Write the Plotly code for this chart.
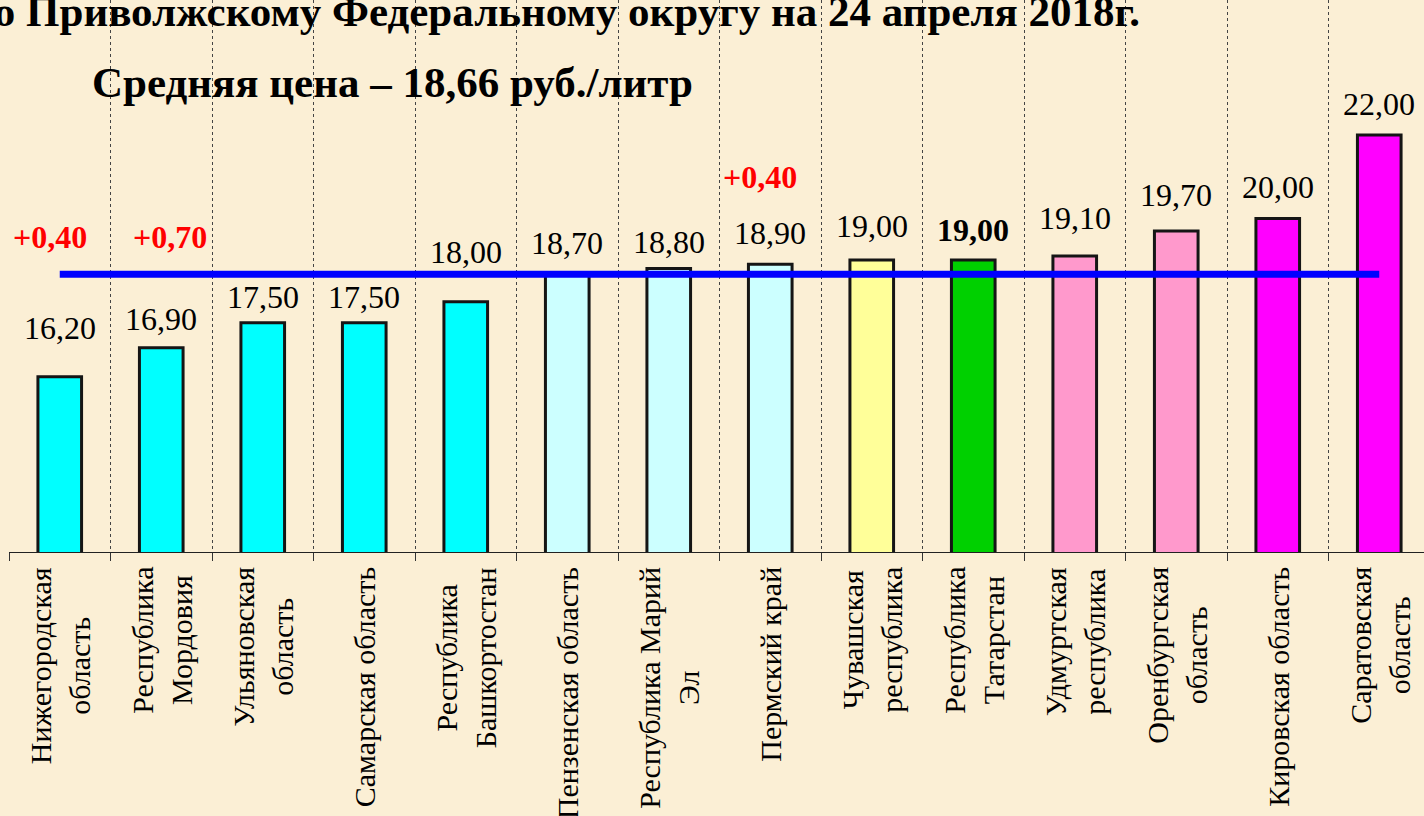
import plotly.graph_objects as go

# ---------------- data ----------------
regions = [
    "Нижегородская<br>область",
    "Республика<br>Мордовия",
    "Ульяновская<br>область",
    "Самарская область",
    "Республика<br>Башкортостан",
    "Пензенская область",
    "Республика Марий<br>Эл",
    "Пермский край",
    "Чувашская<br>республика",
    "Республика<br>Татарстан",
    "Удмуртская<br>республика",
    "Оренбургская<br>область",
    "Кировская область",
    "Саратовская<br>область",
]
prices = [16.20, 16.90, 17.50, 17.50, 18.00, 18.70, 18.80, 18.90,
          19.00, 19.00, 19.10, 19.70, 20.00, 22.00]
# price change (only where shown)
changes = [0.40, 0.70, None, None, None, None, None, 0.40,
           None, None, None, None, None, None]
average_price = 18.66
highlight_index = 9  # Республика Татарстан (bold label)

title_text = "по Приволжскому Федеральному округу на 24 апреля 2018г."
subtitle_text = "Средняя цена – 18,66 руб./литр"

# ---------------- style ----------------
bar_colors = ["#00FFFF"] * 5 + ["#CCFFFF"] * 3 + ["#FFFF99", "#00D000",
              "#FF99CC", "#FF99CC", "#FF00FF", "#FF00FF"]
label_gap_px = [37, 17, 14, 14, 38, 18, 14, 19, 22, 18, 26, 24, 19, 19]
change_label_level = [19.55, 19.55, None, None, None, None, None, 21.0,
                      None, None, None, None, None, None]
change_xshift = [-10, 9, 0, 0, 0, 0, 0, -10, 0, 0, 0, 0, 0, 0]
SERIF = "Times New Roman, Liberation Serif, serif"
BG = "#FBEFD5"

W, H = 1424, 816
ML, MR, MT, MB = 9, 0, 0, 264
plot_w = W - ML - MR
plot_h = H - MT - MB
px_per_cat = 101.5
Y0 = 12.0
px_per_unit = 41.7
x_range = [-0.5, -0.5 + plot_w / px_per_cat]
y_range = [Y0, Y0 + plot_h / px_per_unit]


def fmt(v):
    return f"{v:.2f}".replace(".", ",")


def paper_x(px):
    return (px - ML) / plot_w


def paper_y(py):
    return (H - MB - py) / plot_h


xs = list(range(len(regions)))

fig = go.Figure()
fig.add_trace(go.Bar(
    x=xs, y=prices, width=0.43,
    marker=dict(color=bar_colors, line=dict(color="#151515", width=3)),
    hoverinfo="skip",
))
fig.add_trace(go.Scatter(
    x=[xs[0], xs[-1]], y=[average_price, average_price], mode="lines",
    line=dict(color="#0000FF", width=7), hoverinfo="skip",
))

annotations = []
for i, v in enumerate(prices):
    t = fmt(v)
    if i == highlight_index:
        t = f"<b>{t}</b>"
    annotations.append(dict(
        x=i, y=v, xref="x", yref="y", text=t, showarrow=False,
        yanchor="bottom", xanchor="center", yshift=label_gap_px[i] - 8,
        font=dict(family=SERIF, size=32, color="#000000"),
    ))
    if changes[i] is not None:
        annotations.append(dict(
            x=i, y=change_label_level[i], xref="x", yref="y",
            text=f"<b>+{fmt(changes[i])}</b>", showarrow=False,
            yanchor="middle", xanchor="center", xshift=change_xshift[i],
            font=dict(family=SERIF, size=32, color="#FF0000"),
        ))
    annotations.append(dict(
        x=i, y=0, xref="x", yref="paper", text=regions[i], showarrow=False,
        textangle=-90, yanchor="top", xanchor="center", yshift=-13,
        align="center",
        font=dict(family=SERIF, size=30, color="#000000"),
    ))

annotations.append(dict(
    x=paper_x(1142), y=paper_y(12), xref="paper", yref="paper",
    text=f"<b>{title_text}</b>", showarrow=False,
    xanchor="right", yanchor="middle",
    font=dict(family=SERIF, size=43, color="#000000"),
))
annotations.append(dict(
    x=paper_x(90), y=paper_y(82), xref="paper", yref="paper",
    text=f"<b>{subtitle_text}</b>", showarrow=False,
    xanchor="left", yanchor="middle",
    font=dict(family=SERIF, size=43, color="#000000"),
))

tick_bounds = [i - 0.5 for i in range(len(regions) + 1)]

fig.update_layout(
    width=W, height=H,
    margin=dict(l=ML, r=MR, t=MT, b=MB, pad=0),
    paper_bgcolor=BG, plot_bgcolor=BG,
    showlegend=False,
    annotations=annotations,
    xaxis=dict(
        range=x_range, tickmode="array", tickvals=tick_bounds,
        showticklabels=False, ticks="outside", ticklen=8,
        tickcolor="#333333", tickwidth=1,
        showgrid=True, gridcolor="#444444", gridwidth=1, griddash="dot",
        showline=True, linecolor="#222222", linewidth=1,
        zeroline=False, fixedrange=True,
    ),
    yaxis=dict(
        range=y_range, showticklabels=False, showgrid=False,
        zeroline=False, showline=False, ticks="", fixedrange=True,
    ),
)

fig.write_html(
    "out.html",
    config={"displayModeBar": False},
    post_script="document.body.style.margin='0';"
                "document.body.style.background='" + BG + "';",
)
